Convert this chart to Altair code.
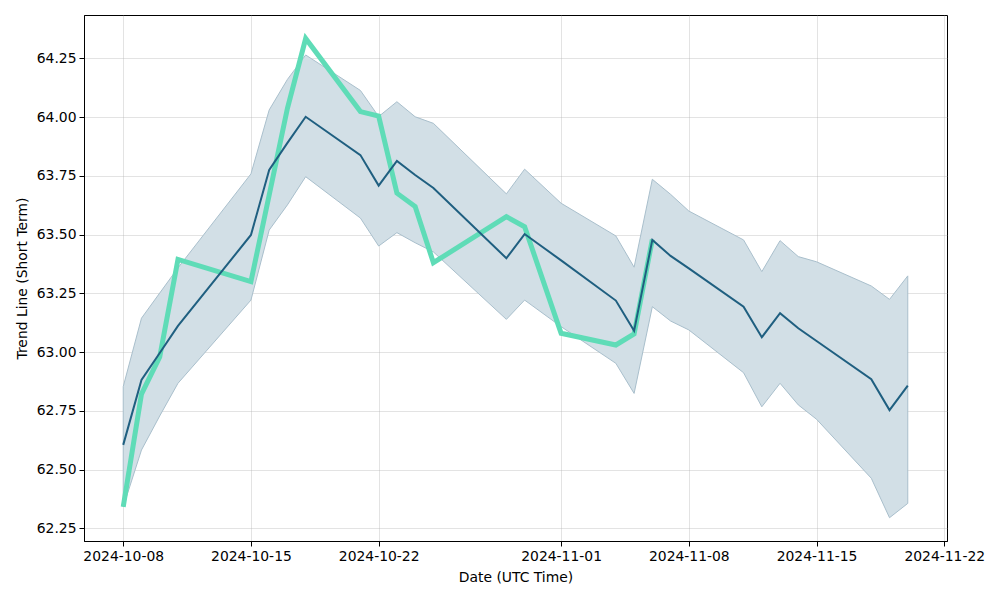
import altair as alt
import pandas as pd

dates = ["2024-10-08", "2024-10-09", "2024-10-10", "2024-10-11", "2024-10-15",
         "2024-10-16", "2024-10-17", "2024-10-18", "2024-10-21", "2024-10-22",
         "2024-10-23", "2024-10-24", "2024-10-25", "2024-10-29", "2024-10-30",
         "2024-11-01", "2024-11-04", "2024-11-05", "2024-11-06", "2024-11-07",
         "2024-11-08", "2024-11-11", "2024-11-12", "2024-11-13", "2024-11-14",
         "2024-11-15", "2024-11-18", "2024-11-19", "2024-11-20"]

trend = [62.605, 62.881, 62.996, 63.111, 63.498, 63.775, 63.890, 64.001, 63.838, 63.708,
         63.813, 63.753, 63.698, 63.399, 63.502, 63.390, 63.219, 63.090, 63.477, 63.409,
         63.356, 63.193, 63.063, 63.165, 63.101, 63.047, 62.884, 62.753, 62.857]

upper = [62.853, 63.144, 63.251, 63.358, 63.758, 64.030, 64.160, 64.264, 64.113, 64.002,
         64.065, 64.001, 63.973, 63.673, 63.778, 63.633, 63.494, 63.361, 63.735, 63.671,
         63.600, 63.477, 63.342, 63.474, 63.406, 63.384, 63.281, 63.224, 63.324]

lower = [62.341, 62.583, 62.728, 62.867, 63.221, 63.519, 63.626, 63.746, 63.570, 63.451,
         63.508, 63.465, 63.426, 63.139, 63.221, 63.108, 62.952, 62.824, 63.193, 63.132,
         63.094, 62.912, 62.767, 62.867, 62.775, 62.714, 62.463, 62.295, 62.356]

price_dates = dates[:19]
price = [62.341, 62.821, 62.979, 63.394, 63.300, 63.668, 64.037, 64.334, 64.023, 64.004,
         63.676, 63.619, 63.380, 63.576, 63.533, 63.080, 63.030, 63.077, 63.479]

y_ticks = [62.25, 62.50, 62.75, 63.00, 63.25, 63.50, 63.75, 64.00, 64.25]
x_ticks = ["2024-10-08", "2024-10-15", "2024-10-22", "2024-11-01", "2024-11-08",
           "2024-11-15", "2024-11-22"]

trend_df = pd.DataFrame({"date": dates, "trend": trend, "upper": upper, "lower": lower})
price_df = pd.DataFrame({"date": price_dates, "price": price})

FONT = "DejaVu Sans"
DARK = "#1f5f80"
GREEN = "#5fdcb7"


def dt(s, h=0, m=0):
    y, mo, d = (int(v) for v in s.split("-"))
    return alt.DateTime(year=y, month=mo, date=d, hours=h, minutes=m, utc=True)


x_scale = alt.Scale(type="utc", domain=[dt("2024-10-05", 20, 24), dt("2024-11-22", 3, 36)])
y_scale = alt.Scale(domain=[62.196, 64.434], nice=False, zero=False)

x_axis = alt.Axis(values=[dt(s) for s in x_ticks],
                  labelExpr="utcFormat(datum.value, '%Y-%m-%d')",
                  title="Date (UTC Time)", labelAngle=0)
y_axis = alt.Axis(values=y_ticks, format=".2f", title="Trend Line (Short Term)")

band = alt.Chart(trend_df).mark_area(
    fill="#d2dfe6", stroke="#a9bfcc", strokeWidth=1
).encode(
    x=alt.X("date:T", scale=x_scale, axis=x_axis),
    y=alt.Y("upper:Q", scale=y_scale, axis=y_axis),
    y2="lower:Q",
)

price_line = alt.Chart(price_df).mark_line(
    color=GREEN, strokeWidth=5, strokeJoin="miter"
).encode(
    x=alt.X("date:T", scale=x_scale, axis=x_axis),
    y=alt.Y("price:Q", scale=y_scale, axis=y_axis),
)

trend_line = alt.Chart(trend_df).mark_line(
    color=DARK, strokeWidth=2
).encode(
    x=alt.X("date:T", scale=x_scale, axis=x_axis),
    y=alt.Y("trend:Q", scale=y_scale, axis=y_axis),
)

chart = alt.layer(band, price_line, trend_line).properties(
    width=863,
    height=526,
    autosize=alt.AutoSizeParams(type="none"),
    padding={"left": 76, "top": 7, "right": 45, "bottom": 51},
).configure_view(
    stroke="black", strokeWidth=1
).configure_axis(
    labelFont=FONT, labelFontSize=13.9, labelColor="black",
    titleFont=FONT, titleFontSize=13.9, titleFontWeight="normal", titleColor="black",
    domainColor="black", domainWidth=1,
    tickColor="black", tickSize=5, tickWidth=1,
    gridColor="#b0b0b0", gridOpacity=0.35, gridWidth=1,
    labelPadding=3,
).configure_axisX(
    titlePadding=8,
).configure_axisY(
    titlePadding=7,
)

chart.save("out.html", embed_options={"renderer": "svg", "actions": False})
